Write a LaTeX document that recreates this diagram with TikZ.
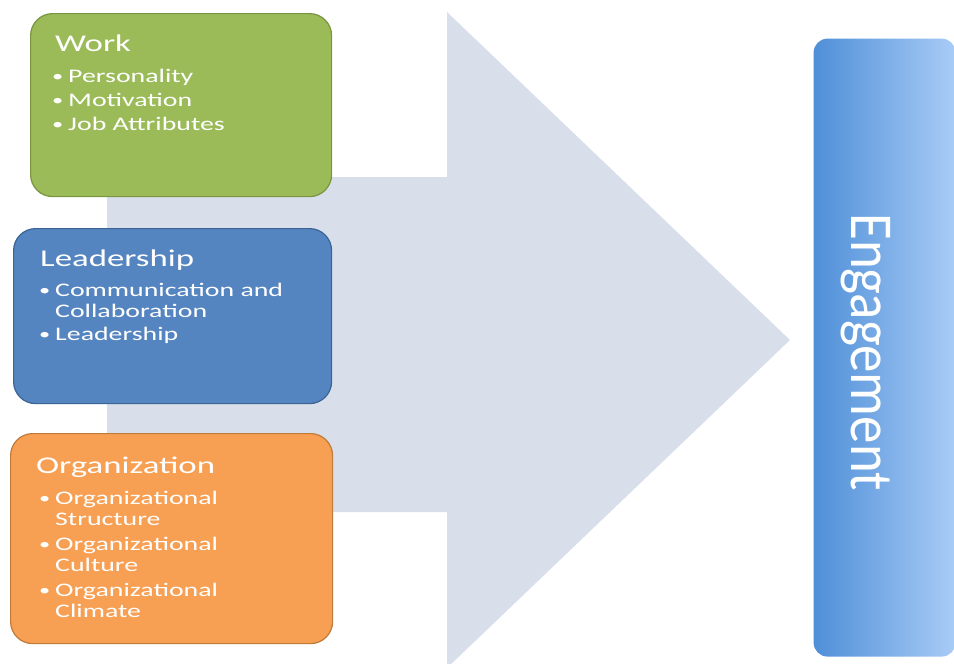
\documentclass[tikz,border=0pt]{standalone}
\usepackage{fontspec}
\setmainfont{Carlito}
\newfontfamily\boxfont[FakeStretch=1.45]{Carlito}
\newfontfamily\engfont[FakeStretch=0.9]{Carlito}

\definecolor{arrowgray}{HTML}{D9DFEA}
\definecolor{workfill}{HTML}{9BBB59}
\definecolor{workline}{HTML}{7A9440}
\definecolor{leadfill}{HTML}{5585C0}
\definecolor{leadline}{HTML}{3B6394}
\definecolor{orgfill}{HTML}{F7A054}
\definecolor{orgline}{HTML}{C07A3A}
\definecolor{engleft}{HTML}{4F8FD8}
\definecolor{engright}{HTML}{A9CCF6}

% small hanging bullet in front of a list line
\newcommand\dotitem{\llap{\raisebox{0.5pt}{\fontsize{15.5}{15}\selectfont\textbullet}\hspace{5pt}}}

\begin{document}
\begin{tikzpicture}
  [x=1pt,y=-1pt,
   box/.style={rounded corners=22pt,line width=1.2pt,anchor=north west,inner sep=0},
   head/.style={anchor=base west,inner sep=0,text=white,font=\boxfont\fontsize{24}{28}\selectfont},
   item/.style={anchor=base west,inner sep=0,text=white,font=\boxfont\fontsize{19.2}{22}\selectfont}]
  \useasboundingbox (0,0) rectangle (954,664);

  % big arrow in the back
  \fill[arrowgray] (107,177) -- (447,177) -- (447,12) -- (790,340)
    -- (447,668) -- (447,512) -- (107,512) -- cycle;

  % the three boxes
  \node[box,draw=workline,fill=workfill,minimum width=301pt,minimum height=183pt] (work) at (30,13) {};
  \node[box,draw=leadline,fill=leadfill,minimum width=318pt,minimum height=175pt] (lead) at (13,228) {};
  \node[box,draw=orgline,fill=orgfill,minimum width=322pt,minimum height=210pt] (org) at (10,433) {};

  \node[head] (w0) at (55,51) {Work};
  \node[item] (w1) at (68,82) {\dotitem Personality};
  \node[item] (w2) at (68,106) {\dotitem Motivation};
  \node[item] (w3) at (68,130) {\dotitem Job Attributes};

  \node[head] (l0) at (40,266) {Leadership};
  \node[item] (l1) at (55,296) {\dotitem Communication and};
  \node[item] (l2) at (55,317) {Collaboration};
  \node[item] (l3) at (55,340) {\dotitem Leadership};

  \node[head] (o0) at (36,473) {Organization};
  \node[item] (o1) at (55,504) {\dotitem Organizational};
  \node[item] (o2) at (55,525) {Structure};
  \node[item] (o3) at (55,550) {\dotitem Organizational};
  \node[item] (o4) at (55,571) {Culture};
  \node[item] (o5) at (55,596) {\dotitem Organizational};
  \node[item] (o6) at (55,617) {Climate};

  % outcome bar
  \node[box,rounded corners=14pt,left color=engleft,right color=engright,
    minimum width=142pt,minimum height=618pt] (eng) at (813,38) {};
  \node[rotate=-90,text=white,inner sep=0,font=\engfont\fontsize{61}{70}\selectfont]
    (engtext) at (866,352) {Engagement};
\end{tikzpicture}
\end{document}
